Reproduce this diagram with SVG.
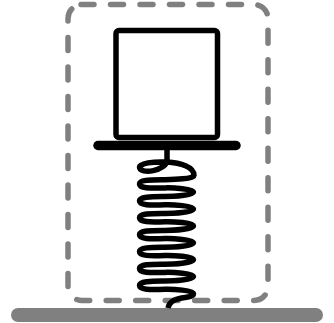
<svg xmlns="http://www.w3.org/2000/svg" width="334" height="323" viewBox="0 0 334 323">
<style>
.k{fill:none;stroke:#000;stroke-linejoin:round;stroke-linecap:round}
.g{fill:none;stroke:#808080;stroke-linecap:round}
</style>
<rect width="334" height="323" fill="#fff"/>
<g id="boundary"><path class="g" stroke-width="5.500" stroke-dasharray="13 16.500" d="M81 4.500H254A14 14 0 0 1 268 18.500V286.500A14 14 0 0 1 254 300.500H82A14 14 0 0 1 68 286.500V18.500A14 14 0 0 1 82 4.500"/></g>
<g id="ground"><line class="g" x1="18" y1="315" x2="316" y2="315" stroke-width="14"/></g>
<g id="mass"><rect class="k" x="116" y="30.500" width="101.500" height="107" rx="3" stroke-width="5.500"/></g>
<g id="platform"><line class="k" x1="98" y1="145.500" x2="236" y2="145.500" stroke-width="9.500"/></g>
<g id="connectors">
<path id="spring" fill="none" stroke="#000" stroke-width="5.500" stroke-linecap="butt" d="M167 150V160C167 171 139.500 175 139.500 167C139.500 160 194 158 194 175.500C194 179 173 179.500 165 179.700C150 179.900 139.500 179.700 139.500 183.900
c0 4.500 10 4.500 25.500 4c8 -.2 28.500 1 28.500 4.200c0 3.200 -20.500 4.400 -28.500 4.500c-15 -.1 -25.500 .2 -25.500 4.200
c0 4.500 10 4.500 25.500 4c8 -.2 28.500 1 28.500 4.200c0 3.200 -20.500 4.400 -28.500 4.500c-15 -.1 -25.500 .2 -25.500 4.200
c0 4.500 10 4.500 25.500 4c8 -.2 28.500 1 28.500 4.200c0 3.200 -20.500 4.400 -28.500 4.500c-15 -.1 -25.500 .2 -25.500 4.200
c0 4.500 10 4.500 25.500 4c8 -.2 28.500 1 28.500 4.200c0 3.200 -20.500 4.400 -28.500 4.500c-15 -.1 -25.500 .2 -25.500 4.200
c0 4.500 10 4.500 25.500 4c8 -.2 28.500 1 28.500 4.200c0 3.200 -20.500 4.400 -28.500 4.500c-15 -.1 -25.500 .2 -25.500 4.200
c0 4.500 10 4.500 25.500 4c8 -.2 28.500 1 28.500 4.200c0 3.200 -20.500 4.400 -28.500 4.500c-15 -.1 -25.500 .2 -25.500 4.200
c0 4.500 10 4.500 25.500 4c8 -.2 28.500 1 28.500 4.200C193.500 300 171 294 168 308"/>
</g>
</svg>
